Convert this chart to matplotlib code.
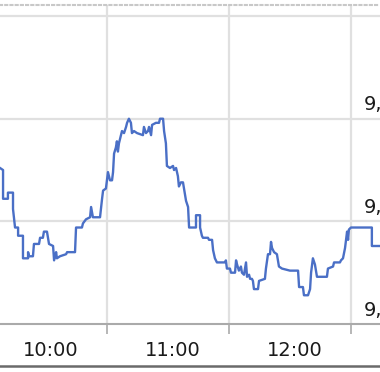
import matplotlib

matplotlib.use('agg')

from matplotlib import pyplot as plt
from matplotlib.lines import Line2D
import matplotlib.transforms as mtransforms

# minutes after 9:00
minutes = [37.4, 38.9, 38.9, 41.3, 41.3, 43.8, 43.8, 44.8, 46.3, 46.3,
           48.7, 48.7, 51.2, 51.2, 51.7, 53.6, 54.1, 56.6, 57.1, 58.5,
           59.0, 60.5, 61.5, 63.5, 64.0, 65.0, 65.4, 66.9, 69.9, 70.4,
           74.3, 74.8, 77.7, 78.2, 79.7, 81.7, 82.2, 83.1, 86.6, 87.6,
           88.1, 89.5, 90.5, 91.5, 92.5, 93.0, 93.5, 94.4, 94.9, 95.4,
           95.9, 96.9, 97.4, 98.4, 99.4, 99.9, 100.8, 101.8, 102.3, 103.3,
           104.8, 107.7, 108.2, 109.2, 110.2, 110.7, 111.7, 112.2, 114.1, 115.6,
           116.1, 117.6, 118.1, 119.0, 119.5, 121.0, 122.5, 123.0, 124.0, 124.9,
           125.4, 126.4, 127.4, 127.9, 128.9, 129.9, 130.4, 131.3, 133.8, 133.8,
           135.8, 135.8, 136.7, 137.2, 139.7, 140.2, 141.7, 142.2, 143.1, 144.1,
           148.1, 148.5, 149.0, 150.5, 151.0, 153.0, 153.5, 154.0, 154.9, 155.9,
           156.4, 157.4, 158.4, 158.9, 159.9, 160.4, 161.3, 161.8, 162.3, 164.3,
           164.8, 167.7, 168.2, 169.2, 170.2, 170.7, 171.2, 172.2, 173.6, 174.6,
           176.1, 180.0, 184.0, 184.5, 186.4, 186.9, 188.9, 189.9, 190.4, 191.3,
           192.3, 192.8, 193.3, 198.2, 198.7, 201.2, 201.7, 204.6, 205.1, 206.1,
           207.1, 207.6, 208.1, 208.6, 209.0, 210.0, 220.3, 220.3, 224.3]
price = [9.576, 9.575, 9.561, 9.561, 9.564, 9.564, 9.556, 9.547, 9.547, 9.543,
         9.543, 9.532, 9.532, 9.535, 9.533, 9.533, 9.539, 9.539, 9.542, 9.542,
         9.545, 9.545, 9.539, 9.538, 9.531, 9.535, 9.532, 9.533, 9.534, 9.535,
         9.535, 9.547, 9.547, 9.549, 9.551, 9.552, 9.557, 9.552, 9.552, 9.561,
         9.565, 9.566, 9.574, 9.570, 9.570, 9.574, 9.583, 9.586, 9.589, 9.584,
         9.588, 9.592, 9.594, 9.593, 9.596, 9.598, 9.600, 9.598, 9.593, 9.594,
         9.593, 9.592, 9.596, 9.593, 9.594, 9.596, 9.592, 9.597, 9.598, 9.598,
         9.600, 9.600, 9.594, 9.588, 9.577, 9.576, 9.577, 9.575, 9.576, 9.572,
         9.567, 9.569, 9.569, 9.566, 9.560, 9.557, 9.547, 9.547, 9.547, 9.553,
         9.553, 9.547, 9.543, 9.542, 9.542, 9.541, 9.541, 9.536, 9.532, 9.530,
         9.530, 9.531, 9.527, 9.527, 9.525, 9.525, 9.531, 9.529, 9.526, 9.528,
         9.525, 9.524, 9.530, 9.523, 9.524, 9.522, 9.522, 9.521, 9.517, 9.517,
         9.521, 9.522, 9.527, 9.534, 9.534, 9.540, 9.537, 9.535, 9.534, 9.528,
         9.527, 9.526, 9.526, 9.518, 9.518, 9.514, 9.514, 9.517, 9.525, 9.532,
         9.529, 9.526, 9.523, 9.523, 9.527, 9.528, 9.530, 9.530, 9.531, 9.532,
         9.537, 9.541, 9.545, 9.541, 9.546, 9.547, 9.547, 9.538, 9.538]

hour_labels = ["10:00", "11:00", "12:00"]
hour_pos = [60, 120, 180]
grid_x = [90, 150, 210]
price_levels = [9.50, 9.55, 9.60, 9.65]
price_labels = ["9,50", "9,55", "9,60"]

fig = plt.figure(figsize=(3.8, 3.72), dpi=100)
ax = fig.add_axes([0, 48 / 372, 1, 319 / 372])

ax.plot(minutes, price, color='#4a6fc6', linewidth=1.7, zorder=3)

ax.set_xlim(37.4, 224.3)
ax.set_ylim(9.50, 9.6554)

for gx in grid_x:
    ax.axvline(gx, color='#e0e0e0', linewidth=1.6, zorder=1)
for lv in price_levels[1:]:
    ax.axhline(lv, color='#e0e0e0', linewidth=1.6, zorder=1)

ax.set_xticks(grid_x)
ax.set_xticklabels([])
ax.tick_params(axis='x', length=7, width=1.2, color='#aaaaaa', direction='out')
ax.set_yticks([])

for s in ['left', 'right']:
    ax.spines[s].set_visible(False)
ax.spines['bottom'].set_color('#aaaaaa')
ax.spines['bottom'].set_linewidth(1.5)
ax.spines['top'].set_color('#c8c8c8')
ax.spines['top'].set_linewidth(1.5)
ax.spines['top'].set_linestyle((0, (1, 1.5)))

# hour labels sit a little right of the hour, under the plot
off = mtransforms.ScaledTranslation(5 / 100, 0, fig.dpi_scale_trans)
for pos, lab in zip(hour_pos, hour_labels):
    tr = mtransforms.blended_transform_factory(ax.transData, fig.transFigure) + off
    ax.text(pos, 1 - 351 / 372, lab, fontsize=14, color='#1a1a1a',
            ha='center', va='center', transform=tr, clip_on=False)

# price labels above their gridlines, running off the right edge
up = mtransforms.ScaledTranslation(0, 14 / 100, fig.dpi_scale_trans)
for lv, lab in zip(price_levels[:3], price_labels):
    tr = mtransforms.blended_transform_factory(fig.transFigure, ax.transData) + up
    ax.text(364 / 380, lv, lab, fontsize=14, color='#1a1a1a',
            ha='left', va='center', transform=tr, clip_on=False)

fig.add_artist(Line2D([0, 1], [1 - 365.5 / 372] * 2, color='#6a6a6a', linewidth=1.8,
                      transform=fig.transFigure))

plt.savefig("out.png")
